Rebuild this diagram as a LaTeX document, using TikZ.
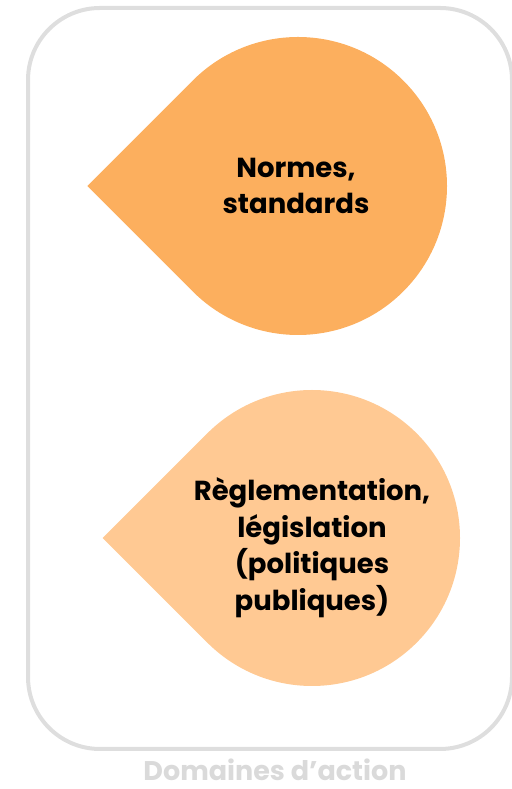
\documentclass[tikz,border=0pt]{standalone}
\usepackage{fontspec}
\setmainfont{Poppins}
\definecolor{orangeA}{HTML}{FCAF5E}
\definecolor{orangeB}{HTML}{FFC993}
\definecolor{frame}{HTML}{DEDEDE}
\definecolor{labelgray}{HTML}{DADADA}
\tikzset{
  droptext/.style={align=center, font=\fontsize{27.5}{36.5}\selectfont\bfseries, text=black, inner sep=0pt},
}
\begin{document}
\begin{tikzpicture}[x=1pt,y=1pt]
\useasboundingbox (0,0) rectangle (511,789);
% frame
\draw[frame, line width=4pt, rounded corners=72pt] (28,40) rectangle (512,781);
% drop 1
\coordinate (c1) at (298,603);
\fill[orangeA] (c1) ++(135:149) arc[start angle=135, end angle=-135, radius=149] -- ++(135:149) -- cycle;
% drop 2
\coordinate (c2) at (312,251);
\fill[orangeB] (c2) ++(135:148) arc[start angle=135, end angle=-135, radius=148] -- ++(135:148) -- cycle;
\node[droptext] (t1) at (296,603) {Normes,\\standards};
\node[droptext] (t2) at (312,241.5) {Règlementation,\\législation\\(politiques\\publiques)};
\node[font=\fontsize{27}{30}\selectfont\bfseries, text=labelgray, inner sep=0pt, anchor=base] (lab) at (275,8.5) {Domaines d’action};
\end{tikzpicture}
\end{document}
